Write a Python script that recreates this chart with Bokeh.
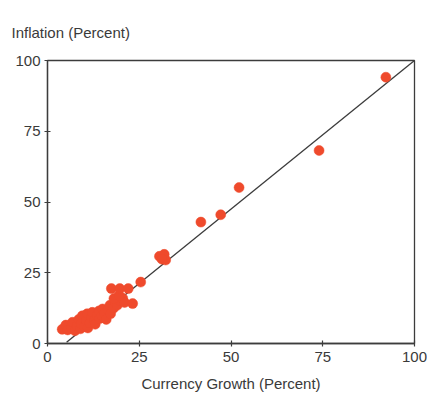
from bokeh.plotting import figure
from bokeh.models import Range1d, FixedTicker, Title
from bokeh.embed import file_html
from bokeh.resources import INLINE

# Currency growth vs. inflation, percent per year, one point per country
currency_growth = [
    4.0, 5.0, 5.5, 6.5, 6.8, 7.5, 8.0, 8.5, 9.0, 9.2, 9.5, 10.0, 10.5, 10.8,
    11.0, 11.5, 12.0, 12.2, 12.8, 13.0, 13.5, 14.0, 14.2, 14.8, 15.0, 15.5,
    16.0, 16.5, 17.0, 17.2, 18.0, 18.5, 19.0, 19.8, 20.5, 21.0,
    18.1, 19.5, 17.4, 19.7, 22.0, 23.2, 25.4,
    30.5, 31.8, 32.2, 31.2, 41.8, 47.2, 52.2, 74.0, 92.2,
]
inflation = [
    5.0, 6.5, 4.8, 5.5, 7.5, 4.5, 6.2, 8.5, 5.2, 7.0, 9.8, 6.0, 8.0, 10.5,
    5.5, 7.2, 9.2, 11.0, 8.0, 6.8, 10.0, 11.5, 8.8, 9.8, 12.2, 10.8,
    8.5, 12.0, 13.5, 10.5, 12.5, 14.5, 13.5, 15.0, 16.0, 14.5,
    15.9, 17.0, 19.4, 19.4, 19.4, 14.1, 21.7,
    30.8, 31.5, 29.5, 29.8, 42.9, 45.5, 55.1, 68.2, 94.1,
]

# Fitted line: inflation = intercept + slope * growth
fit_intercept = -5.0
fit_slope = 1.05
fit_x = [5.2, 100.0]
fit_y = [fit_intercept + fit_slope * x for x in fit_x]

ticks = [0, 25, 50, 75, 100]

FONT = "Liberation Sans"
INK = "#3c3c3c"
TEXT = "#3a3a3a"
DOT = "#ef4a2c"

p = figure(
    width=427, height=396,
    x_range=Range1d(0, 100), y_range=Range1d(0, 100),
    output_backend="svg", toolbar_location=None,
    min_border_left=47, min_border_right=13,
    min_border_top=60, min_border_bottom=53,
    background_fill_color="white", border_fill_color="white",
)
p.grid.visible = False
p.outline_line_color = INK
p.outline_line_width = 1.3

for ax in (p.xaxis[0], p.yaxis[0]):
    ax.ticker = FixedTicker(ticks=ticks)
    ax.minor_tick_line_color = None
    ax.major_tick_in = 3
    ax.major_tick_out = 3
    ax.axis_line_color = INK
    ax.axis_line_width = 1.3
    ax.major_tick_line_color = INK
    ax.major_tick_line_width = 1.2
    ax.major_label_text_font = FONT
    ax.major_label_text_font_size = "15px"
    ax.major_label_text_color = TEXT

p.xaxis.major_label_standoff = 5
p.yaxis.major_label_standoff = 4
p.xaxis.axis_label = "Currency Growth (Percent)"
p.xaxis.axis_label_text_font = FONT
p.xaxis.axis_label_text_font_size = "15px"
p.xaxis.axis_label_text_font_style = "normal"
p.xaxis.axis_label_text_color = TEXT
p.xaxis.axis_label_standoff = 10

p.line(fit_x, fit_y, line_color=INK, line_width=1.3)
p.scatter(currency_growth, inflation, size=10, fill_color=DOT,
          line_color=DOT, line_width=0.5)

# Y-axis caption sits above the frame, flush with the left edge of the page
p.add_layout(Title(
    text="Inflation (Percent)", align="left", offset=-36, standoff=40,
    text_font=FONT, text_font_size="15px", text_font_style="normal",
    text_color=TEXT,
), "above")

open("out.html", "w").write(file_html(p, INLINE))
